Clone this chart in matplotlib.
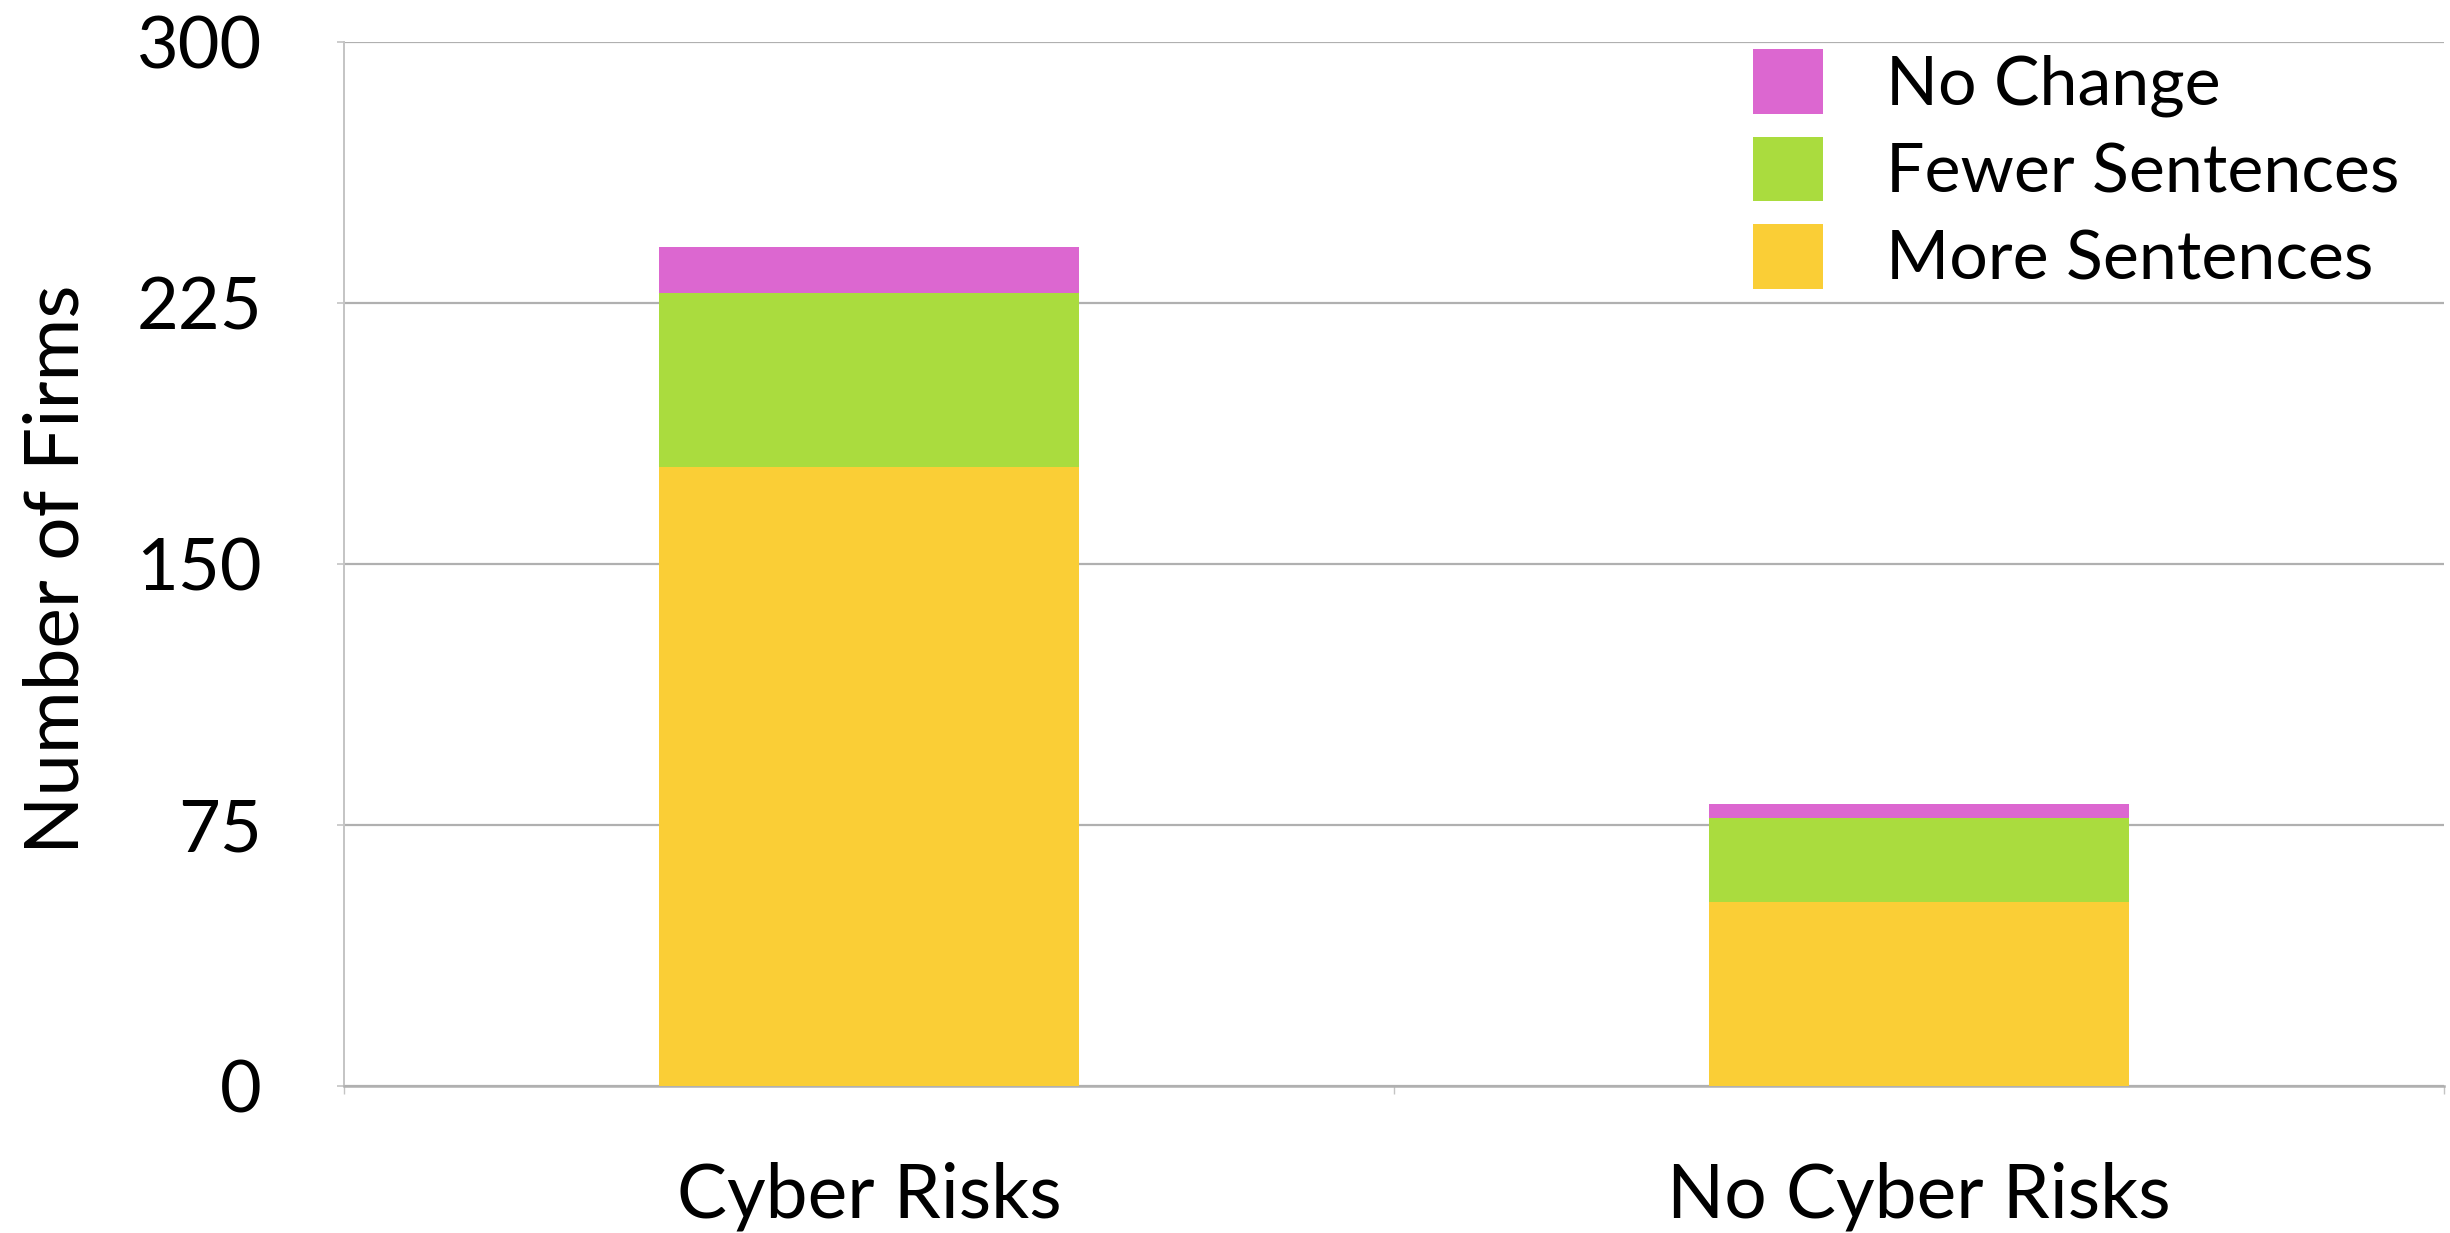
import matplotlib.pyplot as plt
from matplotlib.ticker import FixedLocator

# firm counts per group, stacked bottom to top
groups = ['Cyber Risks', 'No Cyber Risks']
more_sentences = [178, 53]
fewer_sentences = [50, 24]
no_change = [13, 4]
yticks = [0, 75, 150, 225, 300]

plt.rcParams['font.family'] = ['Lato', 'DejaVu Sans']

fig = plt.figure(figsize=(24.5, 12.33), dpi=100)
ax = fig.add_axes([0.1404, 0.1192, 0.8572, 0.8467])

x = range(len(groups))
w = 0.4
b1 = ax.bar(x, more_sentences, w, color='#FACE36', label='More Sentences', zorder=3)
bottom2 = more_sentences
b2 = ax.bar(x, fewer_sentences, w, bottom=bottom2, color='#AADC3E', label='Fewer Sentences', zorder=3)
bottom3 = [a + b for a, b in zip(more_sentences, fewer_sentences)]
b3 = ax.bar(x, no_change, w, bottom=bottom3, color='#DC67D0', label='No Change', zorder=3)

ax.set_xlim(-0.5, 1.5)
ax.set_ylim(0, 300)
ax.set_yticks(yticks)
ax.set_xticks(list(x))
ax.set_xticklabels(groups)
ax.xaxis.set_minor_locator(FixedLocator([-0.5, 0.5, 1.5]))

ax.grid(axis='y', color='#b0b0b0', linewidth=1.6, zorder=0)
ax.set_axisbelow(True)
for s in ['top', 'right']:
    ax.spines[s].set_visible(False)
ax.spines['bottom'].set_color('#b0b0b0')
ax.spines['bottom'].set_linewidth(1.8)
ax.spines['left'].set_color('#c4c4c4')
ax.spines['left'].set_linewidth(1.4)

ax.tick_params(axis='y', length=5, width=1.2, color='#c4c4c4', pad=54, labelsize=52)
ax.tick_params(axis='x', which='major', length=0, pad=54, labelsize=54)
ax.tick_params(axis='x', which='minor', length=6, width=1, color='#c4c4c4')

ax.set_ylabel('Number of Firms', fontsize=55)
ax.yaxis.set_label_coords(-0.12, 0.495)

ax.legend(handles=[b3, b2, b1], loc='upper left', bbox_to_anchor=(0.671, 0.993),
          frameon=False, fontsize=49, handlelength=1.03, handleheight=1.08,
          handletextpad=0.92, labelspacing=0.29, borderpad=0, borderaxespad=0)

fig.savefig('out.png', dpi=100)
